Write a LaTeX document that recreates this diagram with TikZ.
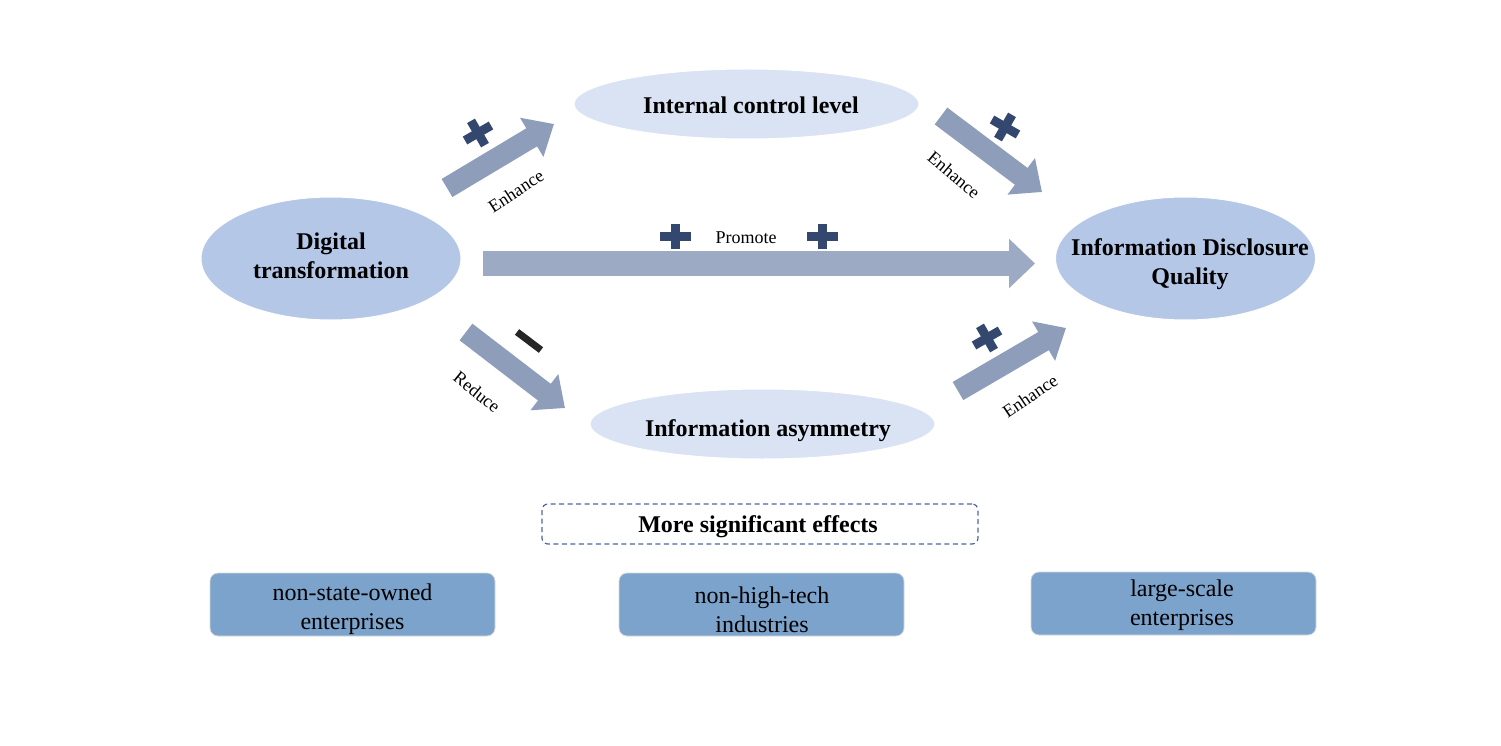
\documentclass[tikz,border=0pt]{standalone}
\usepackage{fontspec}
\setmainfont{Liberation Serif}
\usetikzlibrary{arrows.meta,shapes.geometric}
\definecolor{ellA}{HTML}{B4C7E7}
\definecolor{ellB}{HTML}{DAE3F3}
\definecolor{arrA}{HTML}{8E9DBA}
\definecolor{arrH}{HTML}{9DAAC4}
\definecolor{signc}{HTML}{34476E}
\definecolor{minusc}{HTML}{262626}
\definecolor{boxc}{HTML}{7BA3CC}
\definecolor{dashc}{HTML}{4F64A8}
\tikzset{
  bigell/.style={ellipse, fill=ellA, draw=white, line width=1pt, minimum width=260pt, minimum height=123pt, inner sep=0pt},
  smallell/.style={ellipse, fill=ellB, draw=white, line width=1pt, minimum width=345pt, minimum height=70pt, inner sep=0pt},
  elltext/.style={font=\fontsize{24}{29}\selectfont\bfseries, align=center, inner sep=0pt},
  lab/.style={font=\fontsize{18}{21}\selectfont, inner sep=0pt},
  diagarrow/.style={draw=arrA, line width=21pt, -{Triangle[length=26pt,width=44pt]}},
  horarrow/.style={draw=arrH, line width=25pt, -{Triangle[length=26pt,width=48pt]}},
  bbox/.style={rectangle, rounded corners=8pt, fill=boxc, draw=black!15, line width=0.8pt, minimum width=285pt, minimum height=63pt, align=center, font=\fontsize{24}{29}\selectfont, inner sep=0pt},
  dashbox/.style={rectangle, rounded corners=6pt, draw=dashc, line width=1.2pt, dash pattern=on 5pt off 3.5pt, minimum width=436pt, minimum height=40pt, inner sep=0pt},
  boldtext/.style={font=\fontsize{24}{29}\selectfont\bfseries, inner sep=0pt},
  pluspic/.pic={\fill[signc] (-15,-4.5) rectangle (15,4.5); \fill[signc] (-4.5,-14) rectangle (4.5,14);},
  plushpic/.pic={\fill[signc] (-15.5,-4.5) rectangle (15.5,4.5); \fill[signc] (-4.5,-12.5) rectangle (4.5,12.5);},
  minuspic/.pic={\fill[minusc] (-15,-3.5) rectangle (15,3.5);}
}
\begin{document}
\begin{tikzpicture}[x=1pt,y=-1pt]
\useasboundingbox (0,0) rectangle (1501,746);
\fill[white] (0,0) rectangle (1501,746);

% ellipses
\node[bigell] (dt) at (331,258.5) {};
\node[elltext] (dtt) at (331,256) {Digital\\transformation};
\node[bigell] (iq) at (1185.5,258.5) {};
\node[elltext] (iqt) at (1190,264) {Information Disclosure\\Quality};
\node[smallell] (ic) at (746.5,104) {};
\node[elltext] (ict) at (751,105) {Internal control level};
\node[smallell] (ia) at (762.5,424) {};
\node[elltext] (iat) at (768,431) {Information asymmetry};

% arrows
\coordinate (a1s) at (447,188); \coordinate (a1e) at (554,124);
\coordinate (a2s) at (941,116); \coordinate (a2e) at (1042,192);
\coordinate (a3s) at (466,332); \coordinate (a3e) at (565,408);
\coordinate (a4s) at (958,391); \coordinate (a4e) at (1066,328);
\coordinate (hs) at (483,263.5); \coordinate (he) at (1035,263.5);
\draw[diagarrow] (a1s) -- (a1e);
\draw[diagarrow] (a2s) -- (a2e);
\draw[diagarrow] (a3s) -- (a3e);
\draw[diagarrow] (a4s) -- (a4e);
\draw[horarrow] (hs) -- (he);

% signs
\pic[rotate=30] at (478,133) {pluspic};
\pic[rotate=-30] at (1005,127) {pluspic};
\pic[rotate=30] at (987,338) {pluspic};
\pic at (675,236) {plushpic};
\pic at (822,236) {plushpic};
\pic[rotate=-37] at (529,341) {minuspic};

% labels
\node[lab, rotate=33] (l1) at (516,191) {Enhance};
\node[lab, rotate=-40] (l2) at (954,175) {Enhance};
\node[lab, rotate=-39] (l3) at (477,392) {Reduce};
\node[lab, rotate=34] (l4) at (1030,396) {Enhance};
\node[lab] (l5) at (746,238) {Promote};

% bottom
\node[dashbox] (ms) at (760,524) {};
\node[boldtext] (mst) at (758,527) {More significant effects};
\node[bbox] (b1) at (352.5,604.5) {};
\node[bbox] (b2) at (761.5,604.5) {};
\node[bbox] (b3) at (1173.5,603.5) {};
\node[elltext, font=\fontsize{24}{29}\selectfont] (b1t) at (352.5,609.5) {non-state-owned\\enterprises};
\node[elltext, font=\fontsize{24}{29}\selectfont] (b2t) at (762,609.5) {non-high-tech\\industries};
\node[elltext, font=\fontsize{24}{29}\selectfont] (b3t) at (1182,605.5) {large-scale\\enterprises};
\end{tikzpicture}
\end{document}
